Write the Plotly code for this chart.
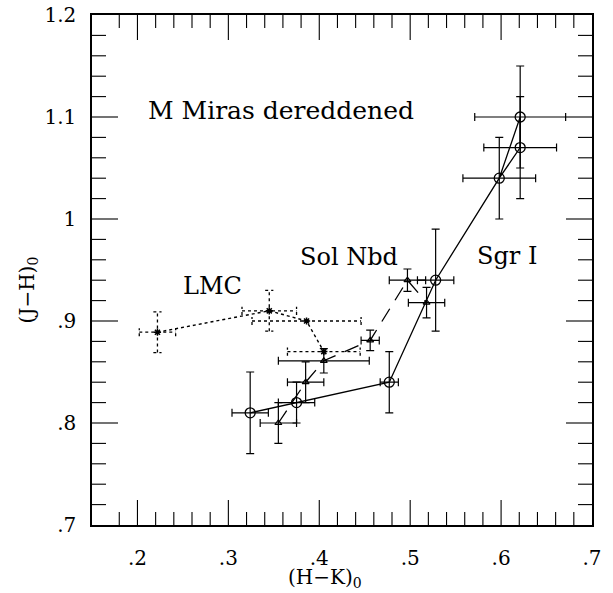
import plotly.graph_objects as go

# ---------------- data ----------------
# Sgr I (solid line, open circles)
sgr_hk = [0.324, 0.375, 0.477, 0.528, 0.598, 0.621, 0.621]
sgr_jh = [0.81, 0.82, 0.84, 0.94, 1.04, 1.10, 1.07]
sgr_hk_err = [0.02, 0.02, 0.01, 0.02, 0.04, 0.05, 0.04]
sgr_jh_err = [0.04, 0.02, 0.03, 0.05, 0.04, 0.05, 0.05]
sgr_path = [0, 1, 2, 3, 4, 5, 6, 4]

# Solar neighbourhood (dashed line)
sol_hk = [0.355, 0.385, 0.405, 0.456, 0.497, 0.518]
sol_jh = [0.80, 0.84, 0.861, 0.881, 0.94, 0.918]
sol_hk_err = [0.02, 0.02, 0.05, 0.01, 0.02, 0.02]
sol_jh_err = [0.02, 0.02, 0.012, 0.01, 0.011, 0.015]

# LMC (dotted line, dotted error bars)
lmc_hk = [0.222, 0.345, 0.386, 0.405]
lmc_jh = [0.889, 0.91, 0.90, 0.87]
lmc_hk_err = [0.02, 0.03, 0.06, 0.04]
lmc_jh_err = [0.02, 0.02, 0.0, 0.0]

x_ticktext = [".2", ".3", ".4", ".5", ".6", ".7"]
y_ticktext = [".7", ".8", ".9", "1", "1.1", "1.2"]

labels = [
    ("M Miras dereddened", 0.358, 1.106),
    ("LMC", 0.283, 0.934),
    ("Sol Nbd", 0.433, 0.963),
    ("Sgr I", 0.606, 0.964),
]

X_RANGE = [0.15, 0.7]
Y_RANGE = [0.7, 1.2]

SERIF = "DejaVu Serif"
BLACK = "black"


def alias(texts):
    # plotly's default labels read "0.2"; show them as ".2"
    return {("0" + t if t.startswith(".") else t): t for t in texts}


fig = go.Figure()

# --- Sgr I line + markers with error bars
fig.add_trace(go.Scatter(
    x=[sgr_hk[i] for i in sgr_path], y=[sgr_jh[i] for i in sgr_path],
    mode="lines", line=dict(color=BLACK, width=1.3), hoverinfo="skip",
    showlegend=False))
fig.add_trace(go.Scatter(
    x=sgr_hk, y=sgr_jh, mode="markers",
    marker=dict(symbol="circle-open", size=10, color=BLACK, line=dict(width=1.3)),
    error_x=dict(type="data", array=sgr_hk_err, color=BLACK, thickness=1.2, width=4),
    error_y=dict(type="data", array=sgr_jh_err, color=BLACK, thickness=1.2, width=4),
    showlegend=False))

# --- Sol Nbd
fig.add_trace(go.Scatter(
    x=sol_hk, y=sol_jh, mode="lines",
    line=dict(color=BLACK, width=1.3, dash="15px,10px"), hoverinfo="skip",
    showlegend=False))
fig.add_trace(go.Scatter(
    x=sol_hk, y=sol_jh, mode="markers",
    marker=dict(symbol="triangle-up-open", size=6, color=BLACK, line=dict(width=1.2)),
    error_x=dict(type="data", array=sol_hk_err, color=BLACK, thickness=1.2, width=4),
    error_y=dict(type="data", array=sol_jh_err, color=BLACK, thickness=1.2, width=4),
    showlegend=False))

# --- LMC: dotted line and dotted error bars
cap_y = 0.004   # half cap length in y units (for horizontal bars)
cap_x = 0.0045  # half cap length in x units (for vertical bars)
ex, ey = [], []
for x, y, dx, dy in zip(lmc_hk, lmc_jh, lmc_hk_err, lmc_jh_err):
    if dx > 0:
        ex += [x - dx, x + dx, None, x - dx, x - dx, None, x + dx, x + dx, None]
        ey += [y, y, None, y - cap_y, y + cap_y, None, y - cap_y, y + cap_y, None]
    if dy > 0:
        ex += [x, x, None, x - cap_x, x + cap_x, None, x - cap_x, x + cap_x, None]
        ey += [y - dy, y + dy, None, y - dy, y - dy, None, y + dy, y + dy, None]
fig.add_trace(go.Scatter(
    x=ex, y=ey, mode="lines", line=dict(color=BLACK, width=1.3, dash="dot"),
    hoverinfo="skip", showlegend=False, connectgaps=False))
fig.add_trace(go.Scatter(
    x=lmc_hk, y=lmc_jh, mode="lines+markers",
    line=dict(color=BLACK, width=1.4, dash="dot"),
    marker=dict(symbol="asterisk-open", size=6, color=BLACK, line=dict(width=1.5)),
    showlegend=False))

# --- inside tick marks on all four sides (major every 0.1, minor every 0.02)
x_span = X_RANGE[1] - X_RANGE[0]
y_span = Y_RANGE[1] - Y_RANGE[0]
PLOT_W, PLOT_H = 500, 510          # plot area in px
MAJ, MIN = 25, 13                   # tick lengths in px
tx, ty = [], []
for k in range(int(round(X_RANGE[0] / 0.02)) + 1, int(round(X_RANGE[1] / 0.02))):
    v = k * 0.02
    ln = (MAJ if k % 5 == 0 else MIN) * y_span / PLOT_H
    tx += [v, v, None, v, v, None]
    ty += [Y_RANGE[0], Y_RANGE[0] + ln, None, Y_RANGE[1], Y_RANGE[1] - ln, None]
for k in range(int(round(Y_RANGE[0] / 0.02)) + 1, int(round(Y_RANGE[1] / 0.02))):
    v = k * 0.02
    ln = (MAJ + 1 if k % 5 == 0 else MIN + 1) * x_span / PLOT_W
    tx += [X_RANGE[0], X_RANGE[0] + ln, None, X_RANGE[1], X_RANGE[1] - ln, None]
    ty += [v, v, None, v, v, None]
fig.add_trace(go.Scatter(
    x=tx, y=ty, mode="lines", line=dict(color=BLACK, width=1.1),
    hoverinfo="skip", showlegend=False, cliponaxis=False))

# --- text labels
for i, (txt, x, y) in enumerate(labels):
    fig.add_annotation(x=x, y=y, text=txt, showarrow=False,
                       font=dict(family=SERIF, size=25 if i == 0 else 24, color=BLACK),
                       xanchor="center", yanchor="middle")

# axis titles as annotations
fig.add_annotation(xref="paper", yref="paper", x=0.466, y=-0.104,
                   text="(H\u2212K)<sub>0</sub>", showarrow=False,
                   font=dict(family=SERIF, size=20, color=BLACK),
                   xanchor="center", yanchor="middle")
fig.add_annotation(xref="paper", yref="paper", x=-0.128, y=0.46,
                   text="(J\u2212H)<sub>0</sub>", showarrow=False, textangle=-90,
                   font=dict(family=SERIF, size=20, color=BLACK),
                   xanchor="center", yanchor="middle")

fig.update_xaxes(
    range=X_RANGE, labelalias=alias(x_ticktext),
    showline=True, linecolor=BLACK, linewidth=1.5, mirror=True,
    ticks="", tickmode="linear", tick0=0, dtick=0.1, ticklabelstandoff=14,
    showgrid=False, zeroline=False,
    tickfont=dict(family=SERIF, size=20, color=BLACK),
)
fig.update_yaxes(
    range=Y_RANGE, labelalias=alias(y_ticktext),
    showline=True, linecolor=BLACK, linewidth=1.5, mirror=True,
    ticks="", tickmode="linear", tick0=0, dtick=0.1, ticklabelstandoff=10,
    showgrid=False, zeroline=False,
    tickfont=dict(family=SERIF, size=20, color=BLACK),
)

fig.update_layout(
    template="none",
    width=613, height=593,
    margin=dict(l=92, r=21, t=15, b=68),
    plot_bgcolor="white", paper_bgcolor="white",
    showlegend=False,
)

fig.write_html("out.html")
